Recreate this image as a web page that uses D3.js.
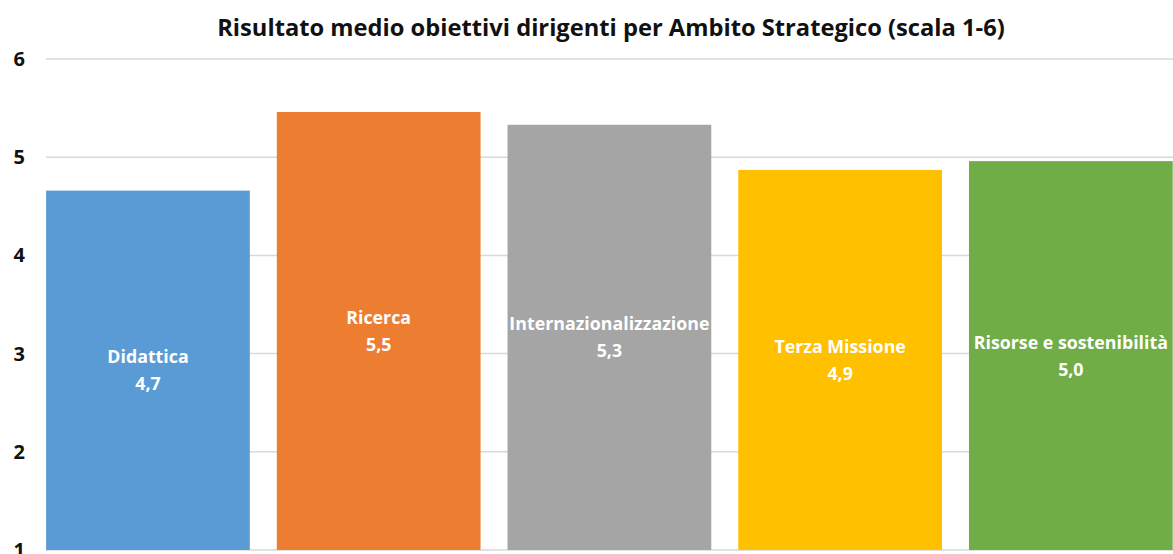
<!DOCTYPE html>
<html>
<head>
<meta charset="utf-8">
<script src="https://cdn.jsdelivr.net/npm/d3@7"></script>
<style>
  html, body { margin: 0; padding: 0; background: #fff; }
  svg { display: block; }
</style>
</head>
<body>
<svg id="chart" width="1173" height="554"></svg>
<script>
// Ambiti strategici e risultato medio (scala 1-6)
const categories = ["Didattica", "Ricerca", "Internazionalizzazione", "Terza Missione", "Risorse e sostenibilità"];
const values = [4.66, 5.46, 5.33, 4.87, 4.96];
const colors = ["#5B9BD5", "#ED7D31", "#A5A5A5", "#FFC000", "#70AD47"];
const yTicks = [1, 2, 3, 4, 5, 6];
const title = "Risultato medio obiettivi dirigenti per Ambito Strategico (scala 1-6)";

const svg = d3.select("#chart");
const W = 1173, H = 554;
const font = "'Open Sans', 'Noto Sans', sans-serif";

const y = d3.scaleLinear().domain([1, 6]).range([550, 59]);
const x = d3.scaleBand()
  .domain(categories)
  .range([32.6, 1186.2])
  .paddingInner(0.117)
  .paddingOuter(0.0585);

// Griglia orizzontale
svg.append("g")
  .selectAll("line")
  .data(yTicks)
  .join("line")
  .attr("x1", 46)
  .attr("x2", W)
  .attr("y1", d => y(d))
  .attr("y2", d => y(d))
  .attr("stroke", "#D9D9D9")
  .attr("stroke-width", 1.5);

// Etichette asse Y
const yAxis = d3.axisLeft(y).tickValues(yTicks).tickSize(0).tickPadding(0).tickFormat(d3.format("d"));
const gy = svg.append("g").attr("transform", "translate(25,0)").call(yAxis);
gy.select(".domain").remove();
gy.selectAll("text")
  .attr("font-family", font)
  .attr("font-weight", "bold")
  .attr("font-size", 20)
  .attr("fill", "#111");

// Barre (partono dal valore minimo della scala)
svg.append("g")
  .selectAll("rect")
  .data(categories)
  .join("rect")
  .attr("x", d => x(d))
  .attr("width", x.bandwidth())
  .attr("y", (d, i) => y(values[i]))
  .attr("height", (d, i) => y(1) - y(values[i]))
  .attr("fill", (d, i) => colors[i]);

// Etichette dati: nome ambito + valore
const fmt = v => v.toFixed(1).replace(".", ",");
const labels = svg.append("g")
  .selectAll("text")
  .data(categories)
  .join("text")
  .attr("text-anchor", "middle")
  .attr("font-family", font)
  .attr("font-weight", "bold")
  .attr("font-size", 17.8)
  .attr("fill", "#fff")
  .attr("transform", (d, i) => `translate(${x(d) + x.bandwidth() / 2},${(y(values[i]) + y(1)) / 2})`);
labels.append("tspan").attr("x", 0).attr("y", -7).text(d => d);
labels.append("tspan").attr("x", 0).attr("y", 20).text((d, i) => fmt(values[i]));

// Titolo
svg.append("text")
  .attr("x", 611)
  .attr("y", 36)
  .attr("text-anchor", "middle")
  .attr("font-family", font)
  .attr("font-weight", "bold")
  .attr("font-size", 23.7)
  .attr("fill", "#111")
  .text(title);
</script>
</body>
</html>
